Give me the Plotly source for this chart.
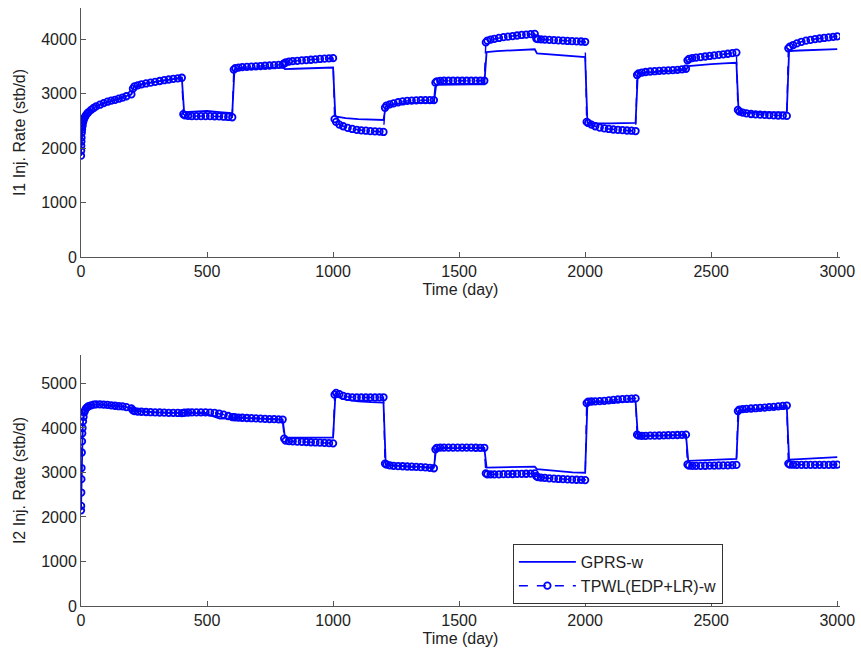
import plotly.graph_objects as go

# control steps switch every 200 days; time steps restart small after each switch
SEG_STARTS = [200, 400, 600, 800, 1000, 1200, 1400, 1600, 1800, 2000, 2200, 2400, 2600, 2800]
TPWL_OFFSETS = [6, 12, 25, 40, 58, 76, 94, 112, 130, 148, 166, 184, 200]
GPRS_OFFSETS = [9, 50, 100, 150, 200]
T_FIRST_TPWL = [0, 0.5, 1, 1.5, 2, 3, 4, 5, 6, 8, 10, 13, 16, 20, 25, 30, 40, 50, 60,
                75, 90, 105, 120, 135, 150, 165, 180, 200]
T_FIRST_GPRS = [0, 1, 2, 4, 7, 10, 15, 25, 40, 60, 90, 130, 170, 200]

X_TICKS = [0, 500, 1000, 1500, 2000, 2500, 3000]
I1_TICKS = [0, 1000, 2000, 3000, 4000]
I2_TICKS = [0, 1000, 2000, 3000, 4000, 5000]

# ---- I1 injection rate (stb/d)
I1_TPWL_FIRST = [1860, 1950, 2040, 2120, 2190, 2280, 2340, 2390, 2420, 2470, 2505, 2545, 2575, 2605,
                 2635, 2660, 2700, 2735, 2765, 2795, 2825, 2850, 2870, 2885, 2905, 2925, 2950, 2985]
I1_TPWL_SEGS = [
    [3090, 3130, 3150, 3170, 3185, 3200, 3215, 3230, 3245, 3258, 3270, 3280, 3290],
    [2620, 2600, 2590, 2585, 2585, 2585, 2585, 2585, 2583, 2580, 2575, 2570, 2565],
    [3440, 3465, 3475, 3485, 3490, 3495, 3500, 3505, 3510, 3515, 3520, 3525, 3530],
    [3555, 3570, 3585, 3595, 3600, 3610, 3615, 3620, 3628, 3635, 3640, 3645, 3650],
    [2530, 2480, 2430, 2400, 2370, 2350, 2335, 2325, 2318, 2310, 2305, 2300, 2295],
    [2740, 2780, 2800, 2820, 2840, 2855, 2865, 2870, 2875, 2878, 2880, 2880, 2880],
    [3200, 3225, 3232, 3235, 3235, 3235, 3235, 3235, 3235, 3235, 3235, 3235, 3235],
    [3940, 3970, 3990, 4005, 4020, 4035, 4045, 4055, 4065, 4075, 4082, 4090, 4095],
    [4010, 4000, 3995, 3990, 3985, 3980, 3975, 3970, 3965, 3962, 3958, 3955, 3950],
    [2480, 2460, 2430, 2400, 2375, 2360, 2350, 2340, 2335, 2328, 2322, 2318, 2312],
    [3340, 3370, 3385, 3395, 3405, 3410, 3415, 3420, 3425, 3430, 3435, 3445, 3455],
    [3610, 3635, 3650, 3660, 3670, 3680, 3690, 3700, 3710, 3720, 3730, 3742, 3752],
    [2700, 2670, 2650, 2635, 2625, 2618, 2612, 2608, 2604, 2600, 2597, 2594, 2590],
    [3830, 3860, 3890, 3920, 3950, 3970, 3985, 4000, 4010, 4020, 4030, 4040, 4050],
]
I1_GPRS_FIRST = [1860, 2040, 2190, 2340, 2440, 2505, 2560, 2635, 2700, 2765, 2825, 2875, 2935, 2985]
I1_GPRS_SEGS = [
    [3120, 3180, 3220, 3260, 3290],
    [2660, 2670, 2680, 2660, 2640],
    [3450, 3460, 3470, 3475, 3480],
    [3450, 3455, 3460, 3470, 3478],
    [2580, 2550, 2530, 2520, 2515],
    [2760, 2810, 2830, 2835, 2835],
    [3160, 3165, 3165, 3170, 3170],
    [3760, 3780, 3795, 3805, 3812],
    [3735, 3720, 3695, 3680, 3668],
    [2460, 2450, 2452, 2455, 2460],
    [3370, 3390, 3405, 3415, 3430],
    [3505, 3525, 3540, 3552, 3565],
    [2640, 2640, 2645, 2652, 2660],
    [3780, 3790, 3800, 3808, 3815],
]

# ---- I2 injection rate (stb/d)
I2_TPWL_FIRST = [2150, 2250, 2550, 2850, 3100, 3450, 3700, 3880, 4000, 4150, 4250, 4350, 4400, 4440,
                 4470, 4490, 4510, 4525, 4530, 4530, 4525, 4520, 4510, 4500, 4490, 4485, 4470, 4440]
I2_TPWL_SEGS = [
    [4400, 4380, 4370, 4365, 4360, 4355, 4350, 4348, 4345, 4342, 4340, 4338, 4335],
    [4340, 4345, 4348, 4350, 4352, 4352, 4350, 4345, 4338, 4325, 4300, 4270, 4245],
    [4245, 4240, 4235, 4230, 4225, 4220, 4215, 4210, 4205, 4200, 4198, 4195, 4190],
    [3760, 3715, 3705, 3700, 3695, 3690, 3685, 3680, 3675, 3670, 3665, 3660, 3655],
    [4750, 4790, 4760, 4720, 4700, 4690, 4685, 4685, 4685, 4685, 4685, 4690, 4690],
    [3200, 3180, 3160, 3150, 3145, 3140, 3135, 3130, 3125, 3120, 3115, 3105, 3095],
    [3520, 3555, 3560, 3560, 3560, 3560, 3560, 3560, 3560, 3558, 3556, 3555, 3555],
    [2980, 2960, 2958, 2958, 2960, 2962, 2964, 2966, 2968, 2970, 2972, 2976, 2980],
    [2920, 2895, 2885, 2878, 2870, 2862, 2855, 2850, 2845, 2840, 2837, 2834, 2830],
    [4560, 4590, 4595, 4600, 4605, 4610, 4620, 4630, 4640, 4648, 4655, 4660, 4665],
    [3850, 3830, 3825, 3825, 3828, 3830, 3832, 3835, 3838, 3840, 3843, 3846, 3850],
    [3180, 3155, 3150, 3150, 3150, 3152, 3154, 3156, 3158, 3160, 3162, 3165, 3170],
    [4380, 4415, 4425, 4430, 4438, 4445, 4452, 4460, 4468, 4476, 4485, 4495, 4505],
    [3200, 3180, 3175, 3172, 3170, 3170, 3170, 3170, 3170, 3170, 3172, 3174, 3175],
]
I2_GPRS_FIRST = [2150, 2550, 3100, 3700, 4070, 4250, 4390, 4470, 4510, 4530, 4525, 4505, 4480, 4440]
I2_GPRS_SEGS = [
    [4390, 4365, 4350, 4342, 4335],
    [4340, 4340, 4310, 4210, 4215],
    [4240, 4225, 4210, 4200, 4190],
    [3790, 3785, 3785, 3785, 3785],
    [4720, 4640, 4600, 4580, 4570],
    [3170, 3150, 3135, 3125, 3110],
    [3540, 3550, 3550, 3550, 3550],
    [3110, 3115, 3120, 3125, 3130],
    [3075, 3050, 3025, 3005, 2995],
    [4570, 4580, 4590, 4595, 4600],
    [3820, 3825, 3830, 3835, 3840],
    [3260, 3270, 3280, 3290, 3305],
    [4390, 4410, 4430, 4450, 4465],
    [3290, 3300, 3315, 3330, 3345],
]


def join(first_t, first_v, offsets, segs):
    t = list(first_t)
    v = list(first_v)
    for s, vals in zip(SEG_STARTS, segs):
        t += [s + o for o in offsets]
        v += vals
    return t, v


BLUE = '#0000ff'
FONT = 'Liberation Sans, Arial, sans-serif'

fig = go.Figure()

panels = [
    ('', I1_TPWL_FIRST, I1_TPWL_SEGS, I1_GPRS_FIRST, I1_GPRS_SEGS),
    ('2', I2_TPWL_FIRST, I2_TPWL_SEGS, I2_GPRS_FIRST, I2_GPRS_SEGS),
]
for k, (ax, tf, ts, gf, gs) in enumerate(panels):
    tg, vg = join(T_FIRST_GPRS, gf, GPRS_OFFSETS, gs)
    tt, vt = join(T_FIRST_TPWL, tf, TPWL_OFFSETS, ts)
    fig.add_trace(go.Scatter(
        x=tg, y=vg, mode='lines', name='GPRS-w',
        line=dict(color=BLUE, width=1.8),
        xaxis='x' + ax, yaxis='y' + ax, showlegend=(k == 1)))
    fig.add_trace(go.Scatter(
        x=tt, y=vt, mode='lines+markers', name='TPWL(EDP+LR)-w',
        line=dict(color=BLUE, width=1.4, dash='dash'),
        marker=dict(symbol='circle-open', size=6.5, color=BLUE, line=dict(width=1.8, color=BLUE)),
        xaxis='x' + ax, yaxis='y' + ax, showlegend=(k == 1)))

axis_common = dict(
    showline=True, linecolor='#555', linewidth=1, mirror=False, automargin=False,
    ticks='inside', ticklen=5, tickcolor='#555', showgrid=False, zeroline=False,
    tickfont=dict(family=FONT, size=16, color='#222'),
)

fig.update_layout(
    width=861, height=655,
    margin=dict(l=81, r=21, t=8, b=49),
    paper_bgcolor='white', plot_bgcolor='white',
    font=dict(family=FONT, size=16, color='#222'),
    xaxis=dict(domain=[0, 1], anchor='y', range=[0, 3011], tickvals=X_TICKS,
               title=dict(text='Time (day)', standoff=4, font=dict(size=16)), **axis_common),
    yaxis=dict(domain=[0.5836, 1], anchor='x', range=[0, 4570], tickvals=I1_TICKS,
               title=dict(text='I1 Inj. Rate (stb/d)', standoff=11, font=dict(size=16)), **axis_common),
    xaxis2=dict(domain=[0, 1], anchor='y2', range=[0, 3011], tickvals=X_TICKS,
                title=dict(text='Time (day)', standoff=4, font=dict(size=16)), **axis_common),
    yaxis2=dict(domain=[0, 0.4197], anchor='x2', range=[0, 5640], tickvals=I2_TICKS,
                title=dict(text='I2 Inj. Rate (stb/d)', standoff=11, font=dict(size=16)), **axis_common),
    legend=dict(x=0.569, y=0.1037, xanchor='left', yanchor='top',
                bgcolor='white', bordercolor='#333', borderwidth=1,
                font=dict(family=FONT, size=16, color='#222'),
                tracegroupgap=0, itemwidth=57),
)

# the page body has a default 8px margin; drop it so the figure fills the window exactly
fig.write_html("out.html", config={'displayModeBar': False},
               post_script="document.body.style.margin='0';")
